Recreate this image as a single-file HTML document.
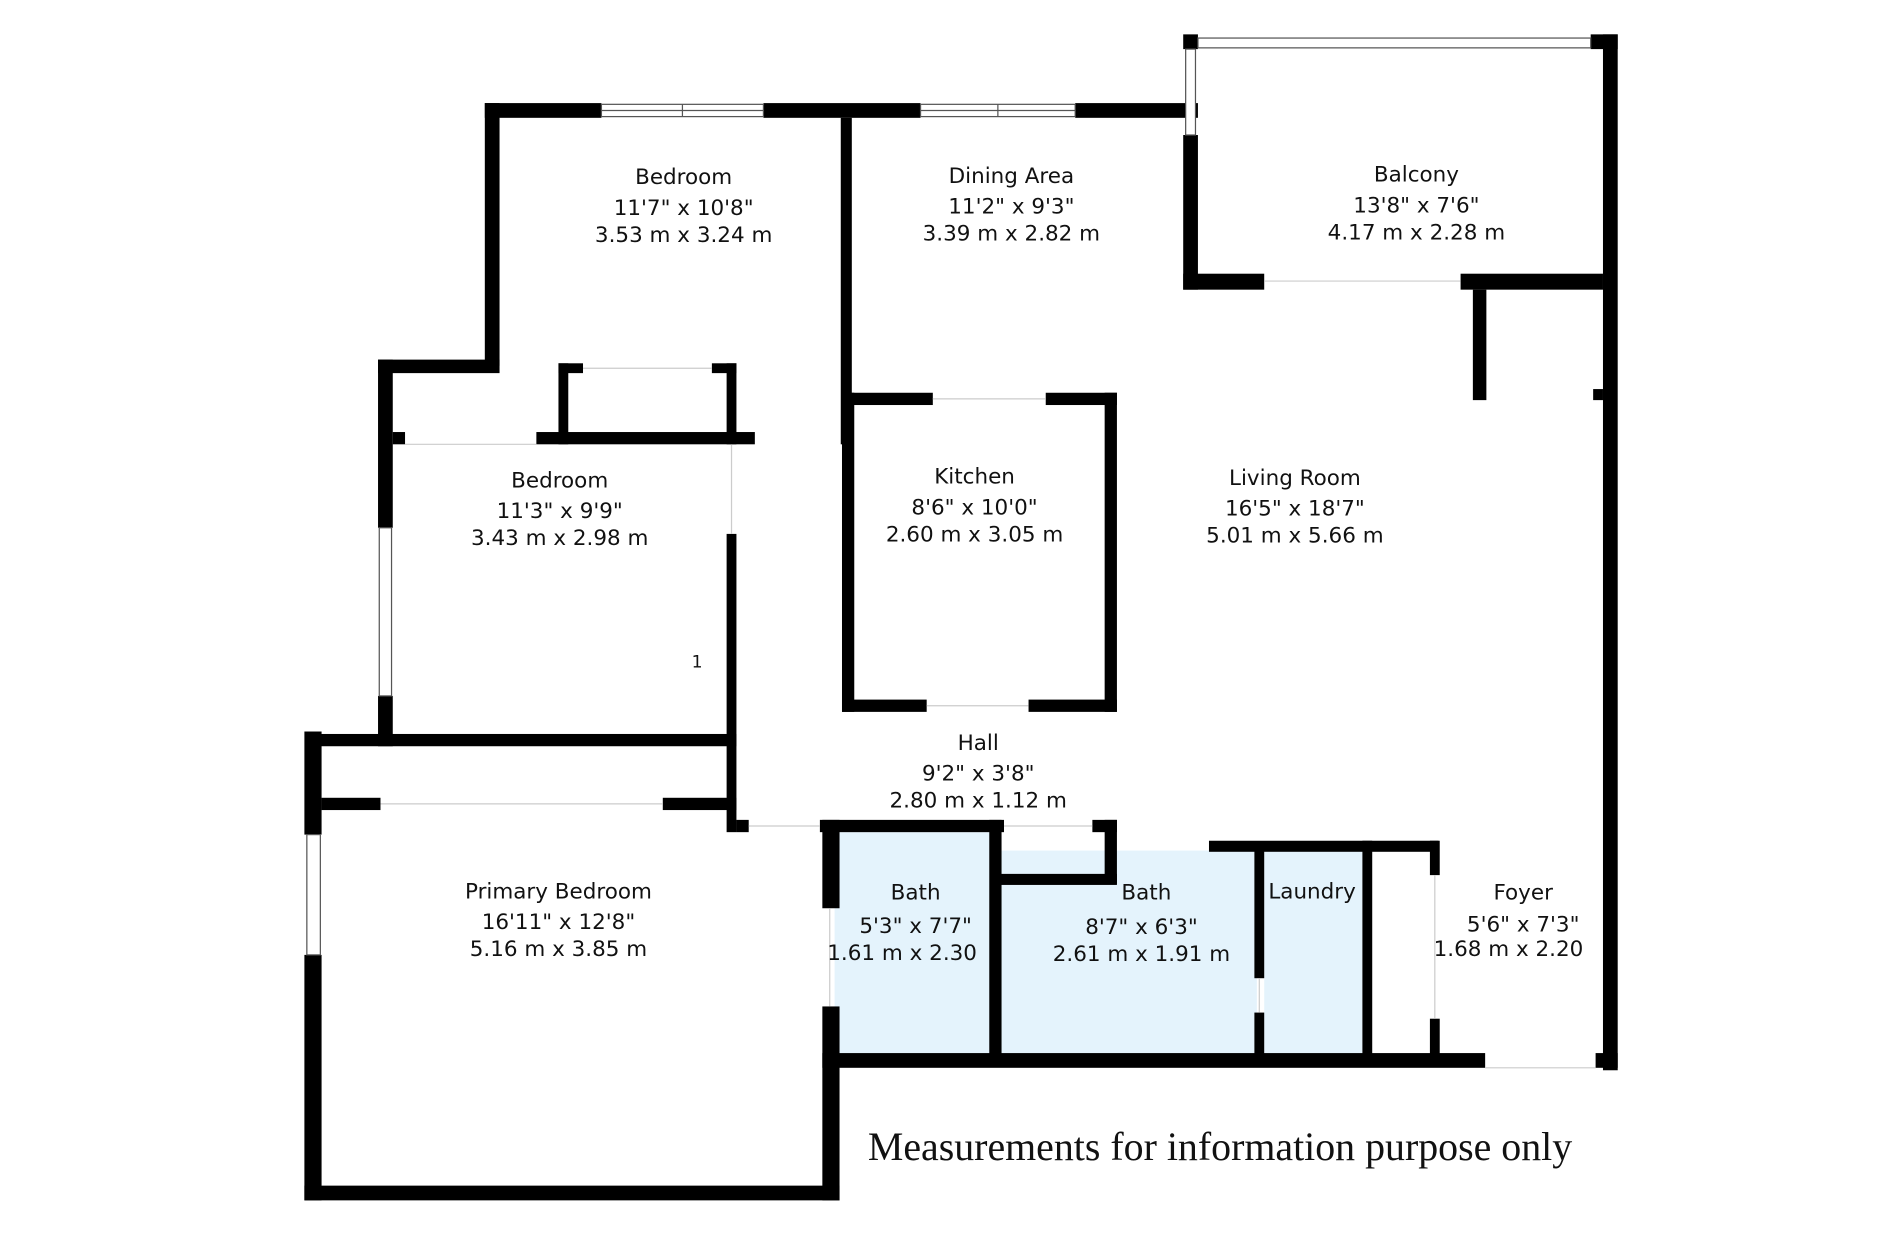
<!DOCTYPE html>
<html><head><meta charset="utf-8"><style>
html,body{margin:0;padding:0;background:#fff;}
svg{display:block;}
text{font-family:"DejaVu Sans","Liberation Sans",sans-serif;font-size:17.5px;fill:#111;text-anchor:middle;}
</style></head><body>
<svg width="1900" height="1254" viewBox="0 0 1548 1021.7" preserveAspectRatio="none" xmlns="http://www.w3.org/2000/svg">
<rect width="1548" height="1022" fill="#fff"/>
<rect x="680" y="678" width="127" height="181" fill="#e4f3fc"/>
<rect x="816" y="693" width="208" height="166" fill="#e4f3fc"/>
<rect x="1030" y="693" width="80" height="166" fill="#e4f3fc"/>
<g fill="#000">
<rect x="395" y="84" width="95" height="12"/>
<rect x="622" y="84" width="128" height="12"/>
<rect x="876" y="84" width="100" height="12"/>
<rect x="395" y="84" width="12" height="214"/>
<rect x="685" y="96" width="9" height="266"/>
<rect x="964" y="28" width="12" height="12"/>
<rect x="964" y="110" width="12" height="126"/>
<rect x="1296" y="28" width="22" height="12"/>
<rect x="1306" y="28" width="12" height="844"/>
<rect x="964" y="223" width="66" height="13"/>
<rect x="1190" y="223" width="116" height="13"/>
<rect x="1200" y="236" width="11" height="90"/>
<rect x="1298" y="317" width="8" height="9"/>
<rect x="308" y="293" width="99" height="11"/>
<rect x="308" y="293" width="12" height="137"/>
<rect x="308" y="567" width="12" height="41"/>
<rect x="320" y="352" width="10" height="10"/>
<rect x="455" y="296" width="20" height="8"/>
<rect x="580" y="296" width="20" height="8"/>
<rect x="455" y="296" width="8" height="66"/>
<rect x="592" y="296" width="8" height="66"/>
<rect x="437" y="352" width="178" height="10"/>
<rect x="592" y="435" width="8" height="243"/>
<rect x="250" y="598" width="350" height="10"/>
<rect x="248" y="596" width="14" height="84"/>
<rect x="248" y="778" width="14" height="200"/>
<rect x="262" y="650" width="48" height="10"/>
<rect x="540" y="650" width="60" height="10"/>
<rect x="248" y="966" width="436" height="12"/>
<rect x="670" y="668" width="14" height="72"/>
<rect x="670" y="820" width="14" height="158"/>
<rect x="600" y="668" width="10" height="10"/>
<rect x="668" y="668" width="150" height="10"/>
<rect x="890" y="668" width="20" height="10"/>
<rect x="688" y="320" width="72" height="10"/>
<rect x="852" y="320" width="58" height="10"/>
<rect x="686" y="320" width="10" height="260"/>
<rect x="900" y="320" width="10" height="260"/>
<rect x="686" y="570" width="69" height="10"/>
<rect x="838" y="570" width="72" height="10"/>
<rect x="806" y="668" width="10" height="192"/>
<rect x="900" y="668" width="10" height="52"/>
<rect x="808" y="712" width="102" height="9"/>
<rect x="985" y="685" width="187" height="9"/>
<rect x="1022" y="693" width="8" height="104"/>
<rect x="1022" y="825" width="8" height="35"/>
<rect x="1110" y="685" width="8" height="175"/>
<rect x="1165" y="685" width="8" height="28"/>
<rect x="1165" y="830" width="8" height="30"/>
<rect x="670" y="858" width="540" height="12"/>
<rect x="1300" y="858" width="18" height="12"/>
</g>
<g fill="#fff" stroke="#555" stroke-width="1">
<rect x="490" y="85" width="132" height="10"/>
<rect x="750" y="85" width="126" height="10"/>
<rect x="976" y="31" width="320" height="8"/>
<rect x="966" y="40" width="8" height="70"/>
<rect x="309" y="430" width="10" height="137"/>
<rect x="250" y="680" width="11" height="98"/>
</g>
<g stroke="#555" stroke-width="1">
<line x1="556" y1="85" x2="556" y2="95"/><line x1="813" y1="85" x2="813" y2="95"/>
<line x1="490" y1="90" x2="622" y2="90"/><line x1="750" y1="90" x2="876" y2="90"/>
</g>
<g stroke="#ccc" stroke-width="1">
<line x1="475" y1="300" x2="580" y2="300"/><line x1="330" y1="362" x2="437" y2="362"/>
<line x1="310" y1="655" x2="540" y2="655"/><line x1="610" y1="673" x2="668" y2="673"/>
<line x1="818" y1="673" x2="890" y2="673"/><line x1="760" y1="325" x2="852" y2="325"/>
<line x1="755" y1="575" x2="838" y2="575"/><line x1="1030" y1="229" x2="1190" y2="229"/>
<line x1="1210" y1="870" x2="1300" y2="870"/><line x1="596" y1="362" x2="596" y2="435"/>
<line x1="676" y1="740" x2="676" y2="820"/><line x1="1026" y1="797" x2="1026" y2="825"/>
<line x1="1169" y1="713" x2="1169" y2="830"/>
</g>
<text x="557" y="150">Bedroom</text><text x="557" y="175">11'7" x 10'8"</text><text x="557" y="197">3.53 m x 3.24 m</text>
<text x="824" y="149">Dining Area</text><text x="824" y="174">11'2" x 9'3"</text><text x="824" y="196">3.39 m x 2.82 m</text>
<text x="1154" y="148">Balcony</text><text x="1154" y="173">13'8" x 7'6"</text><text x="1154" y="195">4.17 m x 2.28 m</text>
<text x="456" y="397">Bedroom</text><text x="456" y="422">11'3" x 9'9"</text><text x="456" y="444">3.43 m x 2.98 m</text>
<text x="794" y="394">Kitchen</text><text x="794" y="419">8'6" x 10'0"</text><text x="794" y="441">2.60 m x 3.05 m</text>
<text x="1055" y="395">Living Room</text><text x="1055" y="420">16'5" x 18'7"</text><text x="1055" y="442">5.01 m x 5.66 m</text>
<text x="797" y="611">Hall</text><text x="797" y="636">9'2" x 3'8"</text><text x="797" y="658">2.80 m x 1.12 m</text>
<text x="455" y="732">Primary Bedroom</text><text x="455" y="757">16'11" x 12'8"</text><text x="455" y="779">5.16 m x 3.85 m</text>
<text x="746" y="733">Bath</text><text x="746" y="760">5'3" x 7'7"</text><text x="735" y="782">1.61 m x 2.30</text>
<text x="934" y="733">Bath</text><text x="930" y="761">8'7" x 6'3"</text><text x="930" y="783">2.61 m x 1.91 m</text>
<text x="1069" y="732">Laundry</text>
<text x="1241" y="733">Foyer</text><text x="1241" y="759">5'6" x 7'3"</text><text x="1229" y="779">1.68 m x 2.20</text>
<text x="568" y="544" style="font-size:14px">1</text>
<text x="994" y="945" style="font-family:'Liberation Serif',serif;font-size:32.5px;">Measurements for information purpose only</text>
</svg>
</body></html>
